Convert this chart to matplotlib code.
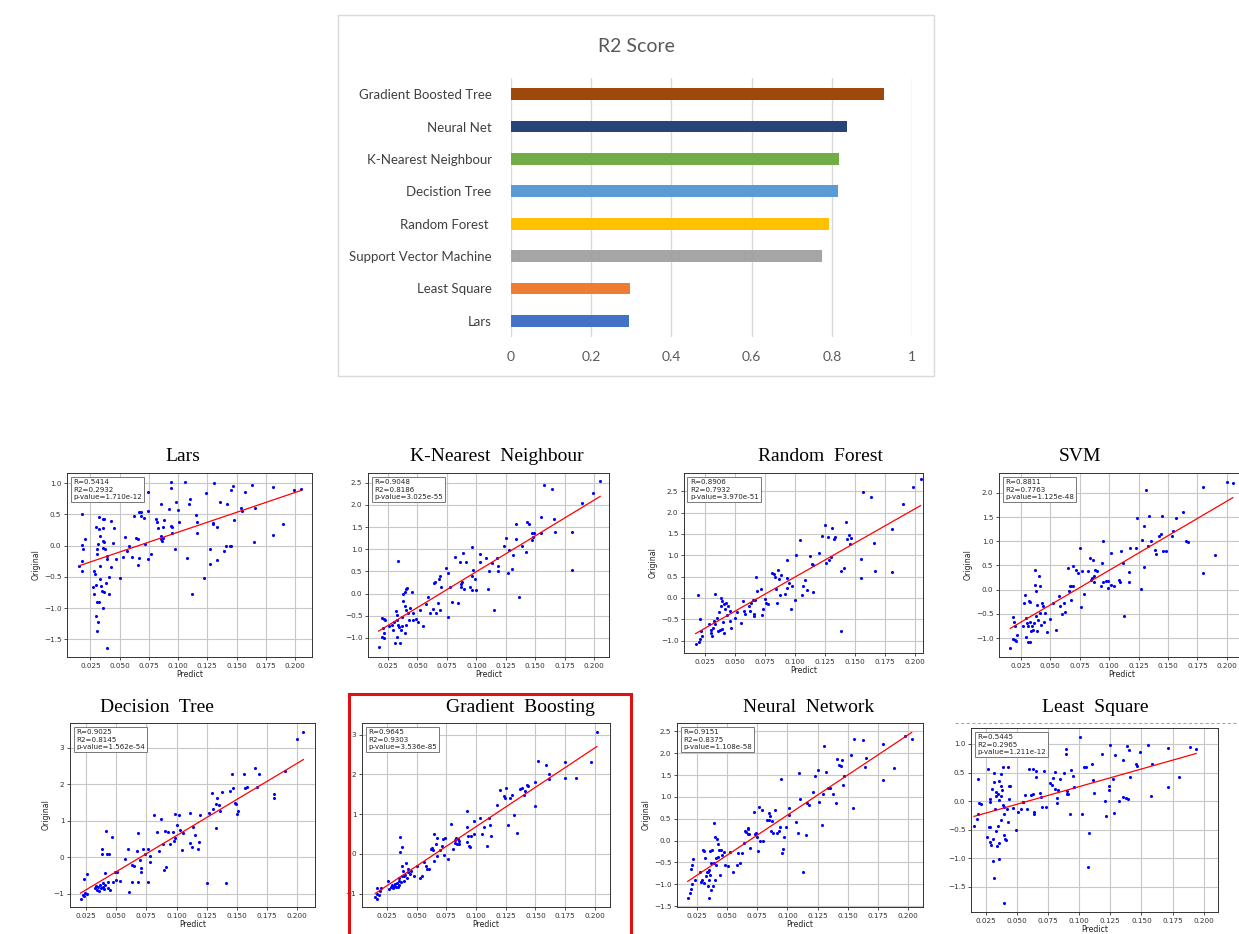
import matplotlib.pyplot as plt
from matplotlib.patches import Rectangle
from matplotlib.lines import Line2D
from matplotlib.ticker import MultipleLocator
import numpy as np

W, H = 1239, 934

# ---- R2 score bar chart data ----
models = ['Lars', 'Least Square', 'Support Vector Machine', 'Random Forest ',
          'Decistion Tree', 'K-Nearest Neighbour', 'Neural Net', 'Gradient Boosted Tree']
r2_scores = [0.2932, 0.2965, 0.7763, 0.7932, 0.8145, 0.8186, 0.8375, 0.9303]
bar_colors = ['#4472c4', '#ed7d31', '#a5a5a5', '#ffc000', '#5b9bd5', '#70ad47', '#264478', '#9e480e']
bar_ticks = [0, 0.2, 0.4, 0.6, 0.8, 1]
bar_tick_labels = ['0', '0.2', '0.4', '0.6', '0.8', '1']

# ---- scatter panels: (Predict, Original) pairs ----
lars_pts = [(0.0155,-0.33),(0.018,-0.40),(0.0175,-0.25),(0.018,0.51),(0.020,0.10),(0.0175,0.01),(0.019,-0.06),
    (0.0285,-0.41),(0.029,-0.45),(0.027,-0.66),(0.030,-0.63),(0.0285,-0.78),(0.031,-0.90),(0.0325,-0.90),
    (0.030,-1.13),(0.0315,-1.22),(0.031,-1.36),(0.032,0.46),(0.030,0.29),(0.0325,0.27),(0.033,0.16),
    (0.031,-0.06),(0.0305,-0.13),(0.0315,0.02),(0.033,-0.33),(0.033,-0.54),(0.034,-0.65),(0.035,-0.72),
    (0.036,-0.99),(0.0355,0.43),(0.0365,0.43),(0.036,0.28),(0.0355,0.07),(0.037,0.06),(0.036,-0.04),
    (0.0375,-0.05),(0.0365,-0.74),(0.0385,-0.60),(0.039,-0.17),(0.0395,-0.21),(0.0395,-1.64),(0.041,-0.78),
    (0.041,-0.50),(0.043,-0.34),(0.043,0.40),(0.045,0.28),(0.044,0.04),(0.047,-0.21),(0.050,-0.52),
    (0.053,-0.18),(0.055,0.14),(0.056,-0.09),(0.058,-0.01),(0.061,-0.19),(0.062,0.48),(0.064,0.12),
    (0.0655,0.10),(0.0665,-0.20),(0.066,-0.31),(0.0665,0.53),(0.068,0.53),(0.068,0.48),(0.071,0.44),
    (0.072,0.02),(0.074,-0.21),(0.0745,0.56),(0.0745,0.85),(0.077,-0.14),(0.081,0.43),(0.082,0.37),
    (0.083,0.28),(0.085,0.66),(0.085,0.16),(0.0855,0.11),(0.086,0.08),(0.087,0.12),(0.088,0.41),
    (0.087,0.30),(0.092,0.59),(0.094,1.02),(0.094,0.92),(0.094,0.31),(0.095,0.30),(0.095,0.20),
    (0.097,-0.06),(0.098,0.69),(0.100,0.57),(0.101,0.37),(0.106,1.02),(0.108,-0.20),(0.109,0.67),
    (0.110,0.75),(0.112,-0.77),(0.115,0.49),(0.116,0.38),(0.116,0.20),(0.122,-0.51),(0.124,0.84),
    (0.127,-0.06),(0.127,-0.29),(0.130,0.36),(0.130,0.34),(0.131,1.00),(0.133,0.29),(0.133,-0.23),
    (0.136,0.69),(0.139,-0.09),(0.141,-0.01),(0.142,0.66),(0.144,-0.01),(0.145,0.00),(0.145,0.89),
    (0.147,0.95),(0.148,0.41),(0.154,0.60),(0.155,0.56),(0.157,0.86),(0.163,0.97),(0.166,0.60),
    (0.165,0.06),(0.181,0.93),(0.181,0.17),(0.190,0.35),(0.199,0.89),(0.205,0.91)]

knn_pts = [(0.017,-1.20),(0.020,-0.54),(0.0215,-0.57),(0.0225,-0.59),(0.021,-0.78),(0.020,-0.97),(0.0215,-1.00),
    (0.022,-0.89),(0.0255,-0.74),(0.028,-0.70),(0.029,-0.82),(0.030,-0.63),(0.031,-1.12),(0.033,-0.97),
    (0.035,-1.12),(0.032,-0.40),(0.0325,-0.48),(0.033,-0.59),(0.0335,-0.70),(0.034,-0.76),(0.0335,0.74),
    (0.036,-0.82),(0.0365,-0.73),(0.037,-0.52),(0.0375,-0.16),(0.0375,-0.01),(0.039,0.04),(0.040,0.10),
    (0.041,0.13),(0.039,-0.29),(0.040,-0.38),(0.039,-0.89),(0.0405,-0.70),(0.042,-0.44),(0.0425,-0.59),
    (0.044,-0.33),(0.0455,0.04),(0.046,-0.59),(0.0465,-0.44),(0.049,-0.57),(0.0505,-0.65),(0.0525,-0.37),
    (0.055,-0.74),(0.0575,-0.24),(0.059,-0.08),(0.0605,-0.43),(0.063,-0.35),(0.064,0.23),(0.065,0.27),
    (0.066,-0.44),(0.0675,-0.22),(0.068,0.34),(0.0695,0.40),(0.070,0.16),(0.0695,-0.37),(0.074,0.57),
    (0.0755,-0.52),(0.076,0.47),(0.0775,0.16),(0.079,-0.20),(0.082,0.83),(0.084,-0.22),(0.086,0.72),
    (0.0865,0.16),(0.087,0.22),(0.088,0.27),(0.089,0.92),(0.0895,0.10),(0.0915,0.72),(0.0945,0.16),
    (0.096,1.06),(0.096,0.40),(0.0965,0.07),(0.097,0.53),(0.0985,0.32),(0.100,0.07),(0.103,0.89),
    (0.103,0.72),(0.1085,0.81),(0.110,0.10),(0.1105,0.52),(0.113,0.68),(0.1145,-0.37),(0.1175,0.81),
    (0.118,0.62),(0.1185,0.52),(0.1235,1.07),(0.1255,1.25),(0.127,0.46),(0.128,0.98),(0.130,0.55),
    (0.131,0.87),(0.134,1.56),(0.134,1.23),(0.136,-0.07),(0.139,1.07),(0.142,0.94),(0.143,1.62),
    (0.145,1.58),(0.147,1.37),(0.147,1.20),(0.149,1.37),(0.148,1.28),(0.155,1.73),(0.155,1.37),
    (0.157,2.46),(0.164,2.37),(0.166,1.68),(0.167,1.38),(0.181,1.40),(0.181,0.53),(0.190,2.04),
    (0.199,2.28),(0.205,2.54)]

rf_pts = [(0.0175,-1.09),(0.0197,0.08),(0.020,-1.04),(0.0208,-0.96),(0.0208,-0.49),(0.0222,-0.78),(0.023,-0.90),
    (0.0286,-0.60),(0.030,-0.82),(0.0306,-0.74),(0.0314,-0.88),(0.032,-0.70),(0.0325,-0.54),(0.0333,0.10),
    (0.034,-0.62),(0.0353,-0.47),(0.036,-0.78),(0.037,-0.32),(0.0375,-0.76),(0.0383,-0.19),(0.039,0.00),
    (0.0392,-0.72),(0.0397,-0.08),(0.040,-0.57),(0.041,-0.82),(0.041,-0.13),(0.042,-0.27),(0.043,-0.12),
    (0.0436,-0.39),(0.0447,-0.19),(0.046,-0.30),(0.046,-0.54),(0.0467,-0.70),(0.050,-0.47),(0.052,-0.33),
    (0.055,-0.58),(0.057,-0.08),(0.058,-0.31),(0.059,-0.37),(0.062,-0.19),(0.063,-0.30),(0.064,-0.12),
    (0.065,-0.05),(0.0665,-0.37),(0.0665,-0.43),(0.067,-0.05),(0.068,0.50),(0.069,0.16),(0.072,0.21),
    (0.073,-0.39),(0.074,-0.27),(0.075,-0.02),(0.076,-0.12),(0.078,-0.13),(0.081,0.58),(0.083,0.57),
    (0.084,0.49),(0.0845,0.21),(0.085,-0.12),(0.0865,0.65),(0.087,0.44),(0.088,0.08),(0.089,0.54),
    (0.092,0.10),(0.0935,0.89),(0.094,0.23),(0.094,0.47),(0.095,0.35),(0.097,-0.27),(0.098,0.27),
    (0.100,-0.05),(0.101,1.00),(0.1045,1.36),(0.106,0.08),(0.107,0.27),(0.109,0.43),(0.110,0.18),
    (0.113,0.99),(0.1145,0.80),(0.115,0.78),(0.115,0.13),(0.120,1.06),(0.1225,1.45),(0.1255,1.71),
    (0.1265,0.82),(0.128,1.42),(0.129,0.89),(0.130,0.97),(0.1315,1.65),(0.1325,1.38),(0.134,1.42),
    (0.1385,-0.78),(0.139,0.64),(0.141,0.70),(0.1425,1.77),(0.144,1.38),(0.145,1.48),(0.146,1.27),
    (0.147,1.41),(0.155,0.46),(0.155,0.91),(0.157,2.49),(0.164,2.36),(0.166,1.28),(0.167,0.64),
    (0.181,1.61),(0.181,0.60),(0.190,2.20),(0.199,2.60),(0.205,2.78)]

svm_pts = [(0.0162,-1.21),(0.0185,-0.57),(0.0193,-0.66),(0.0198,-0.74),(0.0185,-1.02),(0.0198,-1.03),(0.0213,-1.06),
    (0.022,-0.93),(0.027,-0.76),(0.028,-0.28),(0.029,-0.10),(0.0292,-0.59),(0.0298,-0.97),(0.0307,-0.69),
    (0.031,-0.76),(0.0318,-0.24),(0.0327,-0.26),(0.031,-1.07),(0.0327,-1.09),(0.033,-0.66),(0.034,-0.86),
    (0.0347,-0.76),(0.0355,-0.83),(0.036,-0.69),(0.037,0.41),(0.037,0.09),(0.038,-0.55),(0.0384,-0.03),
    (0.039,-0.31),(0.039,-0.86),(0.040,-0.62),(0.0407,0.29),(0.041,0.07),(0.0418,-0.48),(0.0426,-0.72),
    (0.043,-0.28),(0.044,-0.34),(0.045,-0.66),(0.0454,-0.48),(0.047,-0.88),(0.050,-0.61),(0.052,-0.28),
    (0.055,-0.84),(0.0574,-0.12),(0.058,-0.33),(0.0597,-0.50),(0.062,-0.28),(0.063,-0.47),(0.065,0.45),
    (0.066,-0.03),(0.067,0.08),(0.0673,-0.21),(0.068,0.07),(0.069,0.48),(0.0696,0.07),(0.072,0.41),
    (0.074,0.34),(0.075,0.86),(0.076,-0.36),(0.077,0.38),(0.079,-0.09),(0.082,0.38),(0.084,0.66),
    (0.085,0.21),(0.0855,0.24),(0.086,0.61),(0.087,0.28),(0.0875,0.15),(0.088,0.41),(0.0895,0.38),
    (0.093,0.07),(0.094,0.55),(0.0945,1.00),(0.095,0.15),(0.097,0.17),(0.099,0.03),(0.099,0.17),
    (0.1015,0.10),(0.102,0.76),(0.104,0.08),(0.1085,0.21),(0.109,0.15),(0.110,0.79),(0.112,0.55),
    (0.113,-0.55),(0.1165,0.15),(0.1165,0.36),(0.1175,0.86),(0.1225,0.86),(0.124,1.49),(0.127,0.01),
    (0.128,1.02),(0.130,0.46),(0.130,1.32),(0.131,2.06),(0.133,0.91),(0.134,1.53),(0.136,1.00),
    (0.139,0.83),(0.140,0.74),(0.142,1.10),(0.144,1.14),(0.145,1.52),(0.146,0.79),(0.148,0.79),
    (0.153,1.10),(0.154,1.21),(0.157,1.49),(0.163,1.60),(0.1655,1.00),(0.167,0.98),(0.180,2.12),
    (0.180,0.35),(0.190,0.71),(0.200,2.23),(0.205,2.21)]

dt_pts = [(0.0206,-1.14),(0.0222,-1.03),(0.0233,-1.07),(0.0242,-0.98),(0.0233,-0.59),(0.0255,-0.46),(0.026,-1.00),
    (0.0325,-0.85),(0.033,-0.78),(0.034,-0.89),(0.035,-0.80),(0.036,-0.92),(0.0366,-0.76),(0.0375,-0.85),
    (0.038,0.22),(0.038,0.08),(0.039,-0.71),(0.0393,-0.82),(0.040,-0.87),(0.0407,-0.44),(0.041,-0.76),
    (0.042,0.73),(0.0426,0.08),(0.043,-0.69),(0.0435,-0.85),(0.044,0.08),(0.0449,-0.89),(0.0462,0.54),
    (0.0476,-0.69),(0.049,-0.39),(0.0498,-0.62),(0.0504,-0.39),(0.053,-0.64),(0.057,-0.05),(0.060,0.22),
    (0.0606,-0.94),(0.0628,-0.21),(0.063,-0.69),(0.065,-0.25),(0.0669,0.18),(0.0677,0.67),(0.068,-0.69),
    (0.070,-0.07),(0.0705,-0.30),(0.0705,-0.39),(0.0722,0.22),(0.0736,0.09),(0.0763,-0.69),(0.0766,0.22),
    (0.078,0.04),(0.078,-0.12),(0.081,1.15),(0.084,0.68),(0.0855,0.18),(0.0875,1.04),(0.089,0.36),
    (0.0898,-0.35),(0.0903,0.72),(0.091,-0.27),(0.093,0.70),(0.0945,0.36),(0.097,0.70),(0.098,0.45),
    (0.0987,0.52),(0.099,1.18),(0.1005,0.88),(0.102,1.15),(0.103,0.75),(0.1045,0.20),(0.1055,0.67),
    (0.111,0.38),(0.1115,1.22),(0.1125,0.29),(0.114,0.84),(0.115,0.61),(0.118,0.22),(0.1185,0.43),
    (0.119,1.15),(0.125,-0.71),(0.127,1.20),(0.1295,1.75),(0.1305,1.31),(0.1325,1.45),(0.133,0.81),
    (0.1335,1.62),(0.1355,1.43),(0.136,1.27),(0.138,1.79),(0.141,-0.71),(0.144,1.81),(0.1455,2.27),
    (0.147,1.90),(0.148,1.49),(0.149,1.45),(0.150,1.18),(0.1505,1.26),(0.1555,2.27),(0.157,1.90),
    (0.158,1.91),(0.165,2.43),(0.167,1.91),(0.168,2.27),(0.181,1.73),(0.181,1.61),(0.190,2.37),
    (0.1995,3.23),(0.205,3.42)]

gb_pts = [(0.0152,-1.08),(0.0163,-1.00),(0.017,-1.13),(0.0180,-1.04),(0.017,-0.86),(0.020,-0.86),(0.0194,-0.94),
    (0.0255,-0.67),(0.0264,-0.88),(0.028,-0.82),(0.029,-0.77),(0.030,-0.86),(0.0306,-0.80),(0.032,-0.75),
    (0.0326,-0.82),(0.0334,-0.73),(0.034,-0.84),(0.0348,-0.69),(0.0354,-0.77),(0.0354,-0.61),(0.036,0.43),
    (0.036,0.04),(0.037,-0.71),(0.0374,-0.56),(0.038,0.18),(0.038,-0.31),(0.0385,-0.44),(0.039,-0.69),
    (0.0396,-0.56),(0.040,-0.52),(0.041,-0.23),(0.0416,-0.61),(0.0424,-0.39),(0.043,-0.46),(0.044,-0.50),
    (0.045,-0.44),(0.048,-0.55),(0.050,-0.31),(0.0528,-0.61),(0.0547,-0.56),(0.0565,-0.21),(0.058,-0.31),
    (0.0584,-0.39),(0.0604,-0.37),(0.062,0.13),(0.063,0.15),(0.0635,0.11),(0.0646,-0.18),(0.065,0.51),
    (0.066,0.24),(0.0667,-0.06),(0.0675,0.40),(0.0694,0.11),(0.071,0.19),(0.0723,0.38),(0.0728,-0.04),
    (0.0737,0.40),(0.076,-0.13),(0.079,0.76),(0.0805,0.13),(0.082,0.28),(0.0826,0.34),(0.083,0.40),
    (0.0838,0.26),(0.085,0.38),(0.0855,0.32),(0.086,0.26),(0.092,0.29),(0.092,1.08),(0.0927,0.68),
    (0.0935,0.46),(0.094,0.21),(0.095,0.18),(0.096,0.46),(0.098,0.49),(0.0986,0.82),(0.1036,0.91),
    (0.105,0.51),(0.1063,0.68),(0.109,0.19),(0.111,0.91),(0.112,0.72),(0.1125,0.46),(0.1175,1.23),
    (0.120,1.60),(0.1236,1.45),(0.1245,1.41),(0.125,1.66),(0.1265,0.72),(0.1286,1.41),(0.130,1.47),
    (0.132,0.97),(0.1347,0.53),(0.1367,1.63),(0.139,1.66),(0.140,1.47),(0.1415,1.58),(0.143,1.74),
    (0.144,1.70),(0.150,1.20),(0.1496,1.80),(0.1518,2.34),(0.159,2.23),(0.161,2.00),(0.161,1.87),
    (0.175,2.31),(0.175,1.91),(0.184,1.91),(0.1964,2.31),(0.2017,3.07)]

nn_pts = [(0.0173,-1.32),(0.0195,-1.21),(0.020,-1.10),(0.021,-1.00),(0.020,-0.65),(0.021,-0.56),(0.022,-0.43),
    (0.023,-0.91),(0.0278,-0.73),(0.0283,-0.94),(0.029,-0.90),(0.030,-0.21),(0.0305,-0.25),(0.031,-0.98),
    (0.032,-0.40),(0.0327,-0.81),(0.033,-0.73),(0.0339,-1.05),(0.034,-0.73),(0.0347,-1.32),(0.0347,-0.90),
    (0.035,-0.67),(0.0355,-0.79),(0.036,-0.25),(0.0366,-0.52),(0.037,-1.13),(0.0375,-0.21),(0.038,-1.05),
    (0.0388,-0.52),(0.0394,0.41),(0.040,0.09),(0.040,-0.90),(0.041,-0.56),(0.041,-0.40),(0.0416,0.04),
    (0.042,-0.08),(0.0424,-0.37),(0.043,-0.21),(0.0444,-0.79),(0.045,-0.21),(0.0457,-0.33),(0.047,-0.27),
    (0.0485,-0.57),(0.0505,-0.59),(0.0527,-0.27),(0.055,-0.73),(0.058,-0.57),(0.0587,-0.29),(0.0604,-0.52),
    (0.062,-0.29),(0.064,-0.06),(0.065,0.21),(0.0659,0.19),(0.067,0.26),(0.0675,0.28),(0.0675,0.15),
    (0.068,0.15),(0.069,-0.18),(0.072,0.65),(0.0734,0.15),(0.074,0.18),(0.075,0.09),(0.0762,0.76),
    (0.0757,-0.23),(0.0776,-0.02),(0.079,0.69),(0.080,-0.01),(0.0831,0.48),(0.0845,0.64),(0.085,0.48),
    (0.0859,0.57),(0.086,0.23),(0.0872,0.44),(0.0881,0.18),(0.0898,0.69),(0.091,0.18),(0.093,0.21),
    (0.094,0.30),(0.0947,1.40),(0.0955,-0.29),(0.096,-0.20),(0.0972,0.09),(0.0989,0.32),(0.101,0.74),
    (0.1016,0.59),(0.1073,0.43),(0.1088,0.18),(0.1093,1.55),(0.1107,0.96),(0.113,-0.71),(0.1157,0.13),
    (0.116,0.87),(0.1175,0.81),(0.121,1.11),(0.123,1.48),(0.1257,1.62),(0.1265,0.89),(0.129,0.36),
    (0.1296,1.06),(0.130,2.17),(0.1323,1.56),(0.1337,1.21),(0.135,1.21),(0.1378,1.07),(0.140,0.87),
    (0.141,1.87),(0.143,1.73),(0.144,1.71),(0.1455,1.84),(0.146,1.27),(0.147,1.47),(0.1525,1.96),
    (0.1543,0.75),(0.1555,2.33),(0.163,2.31),(0.1646,1.68),(0.1655,1.89),(0.179,2.21),(0.179,1.39),
    (0.188,1.66),(0.1975,2.39),(0.203,2.32)]

ls_pts = [(0.0156,-0.44),(0.0178,-0.31),(0.0186,-0.23),(0.019,0.38),(0.020,-0.04),(0.0211,-0.05),
    (0.0265,0.56),(0.026,-0.63),(0.0273,-0.45),(0.0281,-0.46),(0.0281,0.03),(0.0286,-0.02),(0.0286,-0.72),
    (0.0292,-0.76),(0.030,0.21),(0.0305,-0.66),(0.0308,-1.05),(0.0313,-1.34),(0.0319,0.50),(0.032,0.34),
    (0.0327,-0.13),(0.033,0.16),(0.0335,0.09),(0.0335,-0.53),(0.034,-0.79),(0.0346,0.12),(0.0349,-0.44),
    (0.0354,0.02),(0.0354,-1.01),(0.036,0.36),(0.036,-0.74),(0.037,0.48),(0.037,0.26),(0.0373,0.09),
    (0.0373,-0.33),(0.038,0.20),(0.0389,0.59),(0.0389,-0.07),(0.0394,-0.10),(0.0394,-0.23),(0.040,-0.60),
    (0.040,-1.79),(0.0407,-0.66),(0.041,-0.68),(0.042,-0.14),(0.0426,0.59),(0.043,-0.36),(0.044,0.03),
    (0.044,0.27),(0.0443,0.26),(0.047,-0.12),(0.049,-0.51),(0.051,-0.19),(0.053,-0.13),(0.0546,-0.01),
    (0.055,-0.01),(0.0565,0.11),(0.0583,-0.13),(0.060,0.56),(0.0611,0.11),(0.063,0.12),(0.0633,0.56),
    (0.0636,-0.19),(0.0636,-0.23),(0.065,0.53),(0.065,0.43),(0.0682,0.15),(0.069,0.08),(0.0705,-0.11),
    (0.0715,0.85),(0.0717,0.53),(0.0735,-0.11),(0.077,0.31),(0.0783,0.28),(0.0794,0.41),(0.0805,0.21),
    (0.081,0.51),(0.082,0.05),(0.082,-0.03),(0.0834,0.19),(0.0847,0.39),(0.0882,0.50),(0.0895,0.91),
    (0.0895,0.82),(0.090,0.13),(0.0903,0.17),(0.0909,0.12),(0.093,-0.23),(0.0935,0.54),(0.0948,0.44),
    (0.096,0.25),(0.1006,1.13),(0.102,-0.23),(0.104,0.59),(0.1055,0.59),(0.107,-1.15),(0.108,-0.56),
    (0.110,0.65),(0.111,0.37),(0.1116,0.15),(0.118,0.82),(0.121,0.01),(0.1213,-0.26),(0.1237,0.26),
    (0.124,0.19),(0.1245,0.98),(0.127,0.38),(0.1278,-0.20),(0.129,0.81),(0.1318,0.00),(0.135,0.08),
    (0.1353,0.72),(0.1375,0.06),(0.1383,0.97),(0.1389,0.04),(0.1397,0.89),(0.1407,0.42),(0.1455,0.65),
    (0.1463,0.62),(0.1487,0.86),(0.1554,0.99),(0.1576,0.09),(0.1584,0.65),(0.1715,0.93),(0.1715,0.25),
    (0.1798,0.42),(0.1889,0.94),(0.194,0.91)]

panel_titles = ['Lars', 'K-Nearest  Neighbour', 'Random  Forest', 'SVM',
                'Decision  Tree', 'Gradient  Boosting', 'Neural  Network', 'Least  Square']
panel_points = [lars_pts, knn_pts, rf_pts, svm_pts, dt_pts, gb_pts, nn_pts, ls_pts]
r_values = ['0.5414', '0.9048', '0.8906', '0.8811', '0.9025', '0.9645', '0.9151', '0.5445']
r2_values = ['0.2932', '0.8186', '0.7932', '0.7763', '0.8145', '0.9303', '0.8375', '0.2965']
p_values = ['1.710e-12', '3.025e-55', '3.970e-51', '1.125e-48', '1.562e-54', '3.536e-85', '1.108e-58', '1.211e-12']

# ---- layout (pixel boxes x0, y0, x1, y1 on the 1239x934 canvas) ----
panel_boxes = [(67, 473, 312, 657), (368, 473, 609, 657), (684, 473, 923, 653), (999, 473, 1244, 657),
               (70, 723, 315, 907), (362, 723, 610, 907), (677, 723, 923, 907), (971, 728, 1218, 912)]
panel_xlims = [(0.005, 0.2145), (0.008, 0.2125), (0.0078, 0.207), (0.0066, 0.2145),
               (0.0118, 0.2146), (0.004, 0.2127), (0.0084, 0.2124), (0.0132, 0.2115)]
panel_ylims = [(-1.78, 1.16), (-1.43, 2.72), (-1.29, 2.93), (-1.39, 2.41),
               (-1.36, 3.67), (-1.335, 3.29), (-1.52, 2.69), (-1.94, 1.28)]
panel_ystep = [0.5, 0.5, 0.5, 0.5, 1, 1, 0.5, 0.5]
panel_ylabel = [True, False, True, True, True, False, True, False]
title_pos = [(183, 457), (497, 457), (820, 457), (1080, 457),
             (157, 707), (520, 708), (809, 708), (1095, 708)]


def px_axes(fig, box):
    x0, y0, x1, y1 = box
    return fig.add_axes([x0 / W, 1 - y1 / H, (x1 - x0) / W, (y1 - y0) / H])


fig = plt.figure(figsize=(W / 100, H / 100), dpi=100)
fig.patch.set_facecolor('white')

# ---- bar chart (Excel style) ----
fig.add_artist(Rectangle((338 / W, 1 - 376 / H), (934 - 338) / W, (376 - 15) / H,
                         transform=fig.transFigure, fill=False, edgecolor='#d9d9d9', lw=1))
fig.text(636 / W, 1 - 46 / H, 'R2 Score', ha='center', va='center', fontsize=14,
         color='#595959', family='Lato')
bax = px_axes(fig, (511, 78, 912, 337))
ypos = np.arange(len(models))
bax.barh(ypos, r2_scores, height=0.36, color=bar_colors, zorder=3)
bax.set_xlim(0, 1)
bax.set_ylim(-0.5, len(models) - 0.5)
bax.set_xticks(bar_ticks)
bax.set_xticklabels(bar_tick_labels, family='Lato', fontsize=10, color='#595959')
bax.set_yticks(ypos)
bax.set_yticklabels(models, family='Lato', fontsize=9.5, color='#404040')
bax.tick_params(length=0, pad=14)
bax.tick_params(axis='x', pad=10)
bax.grid(axis='x', color='#d9d9d9', lw=1, zorder=0)
for s in bax.spines.values():
    s.set_visible(False)

# ---- scatter panels ----
for i, pts in enumerate(panel_points):
    ax = px_axes(fig, panel_boxes[i])
    px = np.array([p[0] for p in pts])
    py = np.array([p[1] for p in pts])
    ax.scatter(px, py, s=5, c='blue', linewidths=0, zorder=3)
    k, b = np.polyfit(px, py, 1)
    xl = np.array([px.min(), px.max()])
    ax.plot(xl, k * xl + b, color='red', lw=0.9, zorder=4)
    ax.set_xlim(panel_xlims[i])
    ax.set_ylim(panel_ylims[i])
    ax.xaxis.set_major_locator(MultipleLocator(0.025))
    ax.yaxis.set_major_locator(MultipleLocator(panel_ystep[i]))
    ax.grid(True, color='#c8c8c8', lw=0.8)
    ax.set_axisbelow(True)
    ax.tick_params(labelsize=5.2, length=2.5, width=0.6, pad=1.5, colors='#333333')
    for s in ax.spines.values():
        s.set_linewidth(0.7)
        s.set_color('#333333')
    ax.set_xlabel('Predict', fontsize=5.6, labelpad=1, color='#222222')
    if panel_ylabel[i]:
        ax.set_ylabel('Original', fontsize=5.6, labelpad=2, color='#222222')
    ax.text(0.025, 0.965, 'R=%s\nR2=%s\np-value=%s' % (r_values[i], r2_values[i], p_values[i]),
            transform=ax.transAxes, ha='left', va='top', fontsize=5.1, color='#222222',
            linespacing=1.25, zorder=6,
            bbox=dict(boxstyle='square,pad=0.35', fc='white', ec='#777777', lw=0.7))
    tx, ty = title_pos[i]
    fig.text(tx / W, 1 - ty / H, panel_titles[i], ha='center', va='center',
             fontsize=14, family='Liberation Serif', color='black')

# highlight box around the gradient boosting panel
fig.add_artist(Rectangle((349 / W, 1 - 945 / H), (631 - 349) / W, (945 - 694) / H,
                         transform=fig.transFigure, fill=False, edgecolor='#e01010', lw=2.2))
# leftover dashed strip above the least square panel
fig.add_artist(Line2D([955 / W, 1.0], [1 - 723 / H, 1 - 723 / H], transform=fig.transFigure,
                      color='#aaaaaa', lw=0.8, ls=(0, (3, 2))))

fig.savefig('out.png', dpi=100, facecolor='white')
